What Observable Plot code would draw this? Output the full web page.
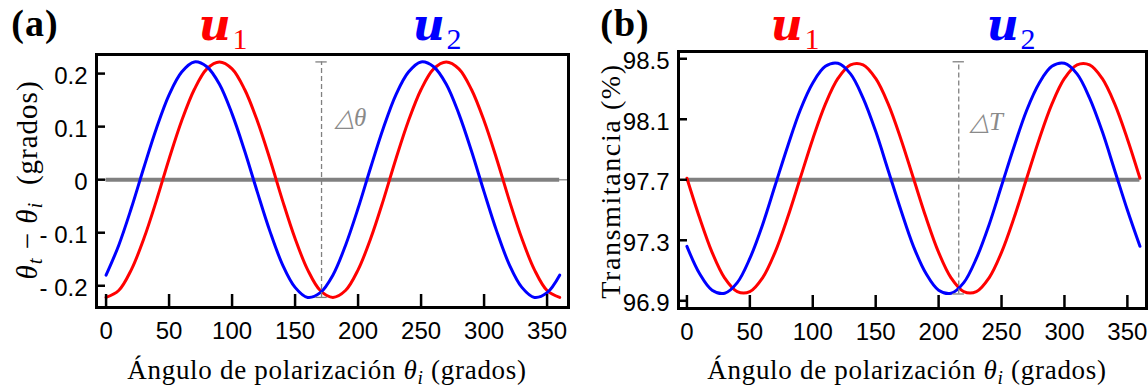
<!DOCTYPE html>
<html><head><meta charset="utf-8">
<script src="https://cdn.jsdelivr.net/npm/d3@7"></script>
<script src="https://cdn.jsdelivr.net/npm/@observablehq/plot@0.6"></script>
<style>
body{margin:0;background:#fff;}
#wrap{position:relative;width:1148px;height:389px;overflow:hidden;background:#fff;}
.panel{position:absolute;top:0;}
.lbl{position:absolute;font-family:"Liberation Serif","Times New Roman",serif;white-space:nowrap;transform:translate(-50%,-50%);line-height:1.2;color:#000;padding:0 4px;}
.tight{line-height:0.9;}
.rot{transform:translate(-50%,-50%) rotate(-90deg);}
sub{font-size:0.72em;vertical-align:-0.25em;line-height:0;}
.u{font-family:"DejaVu Serif",serif;font-weight:bold;font-style:italic;padding-right:0.04em;}
.us{font-family:"Liberation Serif",serif;font-size:0.68em;vertical-align:-0.3em;line-height:0;}
</style></head><body>
<div id="wrap"></div>
<script>
// ---------- data ----------
const angles = [0,10,20,30,40,50,60,70,80,90,100,110,120,130,140,150,160,170,180,190,200,210,220,230,240,250,260,270,280,290,300,310,320,330,340,350,360];
// panel (a): theta_t - theta_i (grados)
const aU1 = [-0.222,-0.209,-0.170,-0.111,-0.039,0.039,0.111,0.170,0.209,0.222,0.209,0.170,0.111,0.039,-0.039,-0.111,-0.170,-0.209,-0.222,-0.209,-0.170,-0.111,-0.039,0.039,0.111,0.170,0.209,0.222,0.209,0.170,0.111,0.039,-0.039,-0.111,-0.170,-0.209,-0.222];
const aU2 = [-0.180,-0.124,-0.054,0.023,0.097,0.160,0.203,0.222,0.213,0.180,0.124,0.054,-0.023,-0.097,-0.160,-0.203,-0.222,-0.213,-0.180,-0.124,-0.054,0.023,0.097,0.160,0.203,0.222,0.213,0.180,0.124,0.054,-0.023,-0.097,-0.160,-0.203,-0.222,-0.213,-0.180];
// panel (b): Transmitancia (%)
const bU1 = [97.71,97.45,97.22,97.05,96.96,96.96,97.05,97.22,97.45,97.71,97.97,98.20,98.37,98.46,98.46,98.37,98.20,97.97,97.71,97.45,97.22,97.05,96.96,96.96,97.05,97.22,97.45,97.71,97.97,98.20,98.37,98.46,98.46,98.37,98.20,97.97,97.71];
const bU2 = [97.26,97.08,96.97,96.95,97.02,97.18,97.40,97.66,97.92,98.16,98.34,98.45,98.47,98.40,98.24,98.02,97.76,97.50,97.26,97.08,96.97,96.95,97.02,97.18,97.40,97.66,97.92,98.16,98.34,98.45,98.47,98.40,98.24,98.02,97.76,97.50,97.26];
const xTicks = [0,50,100,150,200,250,300,350];
const aYTicks = [-0.2,-0.1,0,0.1,0.2];
const aYTickLabels = ["- 0.2","- 0.1","0","0.1","0.2"];
const bYTicks = [96.9,97.3,97.7,98.1,98.5];
const bYTickLabels = ["96.9","97.3","97.7","98.1","98.5"];
const aBaseline = 0;
const bBaseline = 97.70;
const aDelta = {x: 171, top: 0.222, bottom: -0.222, labelX: 194, labelY: 0.117, text: "△θ"};
const bDelta = {x: 216, top: 98.48, bottom: 96.945, labelX: 238, labelY: 98.08, text: "△T"};
const seriesNames = ["u1","u2"];
const seriesColors = ["#ff0000","#0000ff"];

// ---------- drawing ----------
const tickFont = '"Liberation Sans Narrow","Arial Narrow","Liberation Sans",Arial,sans-serif';

function panel(cfg){
  const rows = [];
  angles.forEach((a,i)=>{ rows.push({angle:a, value:cfg.u1[i], s:seriesNames[0]}); });
  angles.forEach((a,i)=>{ rows.push({angle:a, value:cfg.u2[i], s:seriesNames[1]}); });
  const W = 574, H = 389;
  const fw = W - cfg.ml - cfg.mr, fh = H - cfg.mt - cfg.mb;
  const marks = [];
  if (cfg.thin) marks.push(Plot.ruleY([cfg.base], {stroke:"#9a9a9a", strokeWidth:1.5}));
  marks.push(Plot.ruleY([cfg.base], {x1: angles[0], x2: angles[angles.length-1], stroke:"#808080", strokeWidth:4}));
  marks.push(Plot.line(rows, {x:"angle", y:"value", z:"s", stroke:"s", strokeWidth:3, curve:"catmull-rom"}));
  marks.push(Plot.ruleX([cfg.delta.x], {y1: cfg.delta.bottom, y2: cfg.delta.top, stroke:"#808080", strokeWidth:1.3, strokeDasharray:"5,3"}));
  marks.push(Plot.ruleY([cfg.delta.top, cfg.delta.bottom], {x1: cfg.delta.x-4.5, x2: cfg.delta.x+4.5, stroke:"#808080", strokeWidth:1.3}));
  marks.push(Plot.text([cfg.delta], {x:"labelX", y:"labelY", text:"text", fill:"#8a8a8a", fontSize:25, fontStyle:"italic", fontFamily:'"Liberation Serif",serif', textAnchor:"middle"}));
  marks.push(Plot.tickX(xTicks, {x: d=>d, insetTop: fh-13, stroke:"#000", strokeWidth:2.5}));
  marks.push(Plot.tickY(cfg.yTicks, {y: d=>d, insetRight: fw-9, stroke:"#000", strokeWidth:2.5}));
  marks.push(Plot.axisX(xTicks, {tickSize:0, tickPadding:14, label:null, fontSize:24, fontFamily:tickFont}));
  marks.push(Plot.axisY(cfg.yTicks, {tickSize:0, tickPadding:9, label:null, fontSize:24, fontFamily:tickFont, dy:3, tickFormat:(d,i)=>cfg.yLabels[i]}));
  marks.push(Plot.frame({stroke:"#000", strokeWidth:3}));
  const p = Plot.plot({
    width: W, height: H,
    marginLeft: cfg.ml, marginRight: cfg.mr, marginTop: cfg.mt, marginBottom: cfg.mb,
    x: {domain: cfg.xd, axis: null},
    y: {domain: cfg.yd, axis: null},
    color: {domain: seriesNames, range: seriesColors},
    style: {background:"transparent", overflow:"visible"},
    marks
  });
  p.classList.add("panel");
  p.style.left = cfg.left + "px";
  return p;
}

const wrap = document.getElementById("wrap");
wrap.appendChild(panel({left:0, u1:aU1, u2:aU2, base:aBaseline, thin:true, delta:aDelta,
  yTicks:aYTicks, yLabels:aYTickLabels, ml:96, mr:6, mt:54, mb:82, xd:[-7.6,367], yd:[-0.241,0.236]}));
wrap.appendChild(panel({left:574, u1:bU1, u2:bU2, base:bBaseline, thin:false, delta:bDelta,
  yTicks:bYTicks, yLabels:bYTickLabels, ml:104, mr:2, mt:51, mb:81, xd:[-6.7,365.2], yd:[96.849,98.548]}));

function label(html, cx, cy, size, extra, ls){
  const d = document.createElement("div");
  d.className = "lbl" + (extra ? " " + extra : "");
  d.innerHTML = html;
  d.style.left = cx + "px"; d.style.top = cy + "px"; d.style.fontSize = size + "px";
  if (ls) d.style.letterSpacing = ls + "px";
  wrap.appendChild(d);
  return d;
}
label("<b>(a)</b>", 35, 23, 38, "tight", 1);
label("<b>(b)</b>", 625, 23, 38, "tight", 1);
label('<span class="u">u</span><span class="us">1</span>', 223, 25, 44, "tight").style.color = seriesColors[0];
label('<span class="u">u</span><span class="us">2</span>', 437, 25, 44, "tight").style.color = seriesColors[1];
label('<span class="u">u</span><span class="us">1</span>', 795, 25, 44, "tight").style.color = seriesColors[0];
label('<span class="u">u</span><span class="us">2</span>', 1011, 25, 44, "tight").style.color = seriesColors[1];
label('Ángulo de polarización <i>θ</i><sub><i>i</i></sub> (grados)', 327, 370, 27, null, 0.7);
label('Ángulo de polarización <i>θ</i><sub><i>i</i></sub> (grados)', 907, 370, 27, null, 0.7);
label('<i>θ</i><sub><i>t</i></sub> − <i>θ</i><sub><i>i</i></sub>&nbsp; (grados)', 27, 180, 29, "rot", 1);
label('Transmitancia (%)', 611, 181, 28, "rot", 1.6);
</script>
</body></html>
